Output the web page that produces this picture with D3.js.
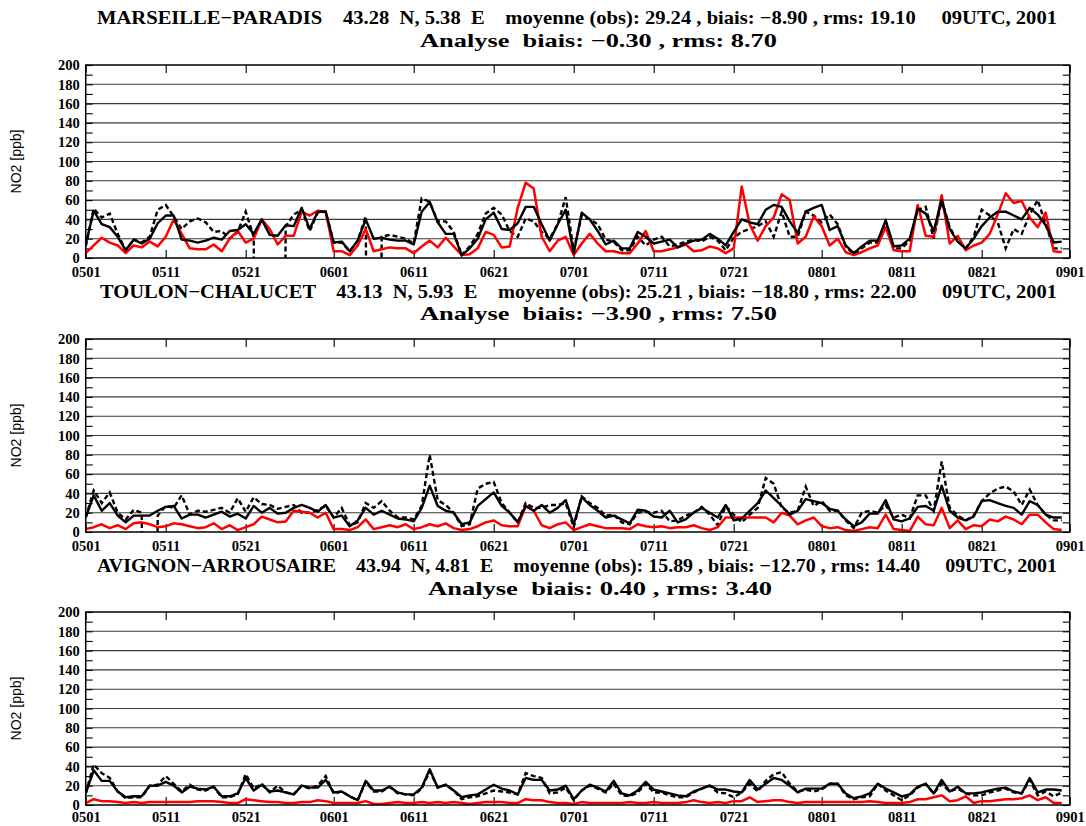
<!DOCTYPE html>
<html><head><meta charset="utf-8">
<script src="https://cdn.jsdelivr.net/npm/d3@7"></script>
<style>
html,body{margin:0;padding:0;background:#fff;}
svg{display:block;}
text{white-space:pre;}
</style></head>
<body>
<svg id="chart" width="1086" height="826"></svg>
<script>
// ---------- data ----------
const tickDays   = [0,10,20,31,41,51,61,71,81,92,102,112,123];
const tickLabels = ["0501","0511","0521","0601","0611","0621","0701","0711","0721","0801","0811","0821","0901"];
const yTicks = [0,20,40,60,80,100,120,140,160,180,200];

const titles1 = [
 "MARSEILLE−PARADIS    43.28  N, 5.38  E    moyenne (obs): 29.24 , biais: −8.90 , rms: 19.10     09UTC, 2001",
 "TOULON−CHALUCET    43.13  N, 5.93  E    moyenne (obs): 25.21 , biais: −18.80 , rms: 22.00     09UTC, 2001",
 "AVIGNON−ARROUSAIRE    43.94  N, 4.81  E    moyenne (obs): 15.89 , biais: −12.70 , rms: 14.40     09UTC, 2001"
];
const titles2 = [
 "Analyse  biais: −0.30 , rms: 8.70",
 "Analyse  biais: −3.90 , rms: 7.50",
 "Analyse  biais: 0.40 , rms: 3.40"
];
const yLabel = "NO2 [ppb]";

// Panel 1 (Marseille)
const obs1 = [12,51,42,46,25,8,19,16,22,50, 55,43,30,38,41,37,27,28,20,27, 48,22,null,null,null,33,45,50,28,47, 48,16,16,7,18,
 43,null,22,24,22,20,15,62,58,38, 38,27,3,12,25,46,52,45,28,22, 41,38,27,20,35,63,8,44,40,35, 19,17,8,8,22,13,19,22,12,14, 17,19,
 17,22,18,8,21,27,30,33,38,22, 48,22,22,48,44,37,45,35,12,4, 10,16,16,38,10,10,18,50,53,20, 60,32,17,10,22,50,44,37,10,30, 25,45,60,35,10,10];
const ana1 = [14,49,35,32,22,8,19,15,20,36, 44,44,19,18,16,18,21,19,28,29, 35,25,40,24,23,34,33,52,30,48, 48,16,17,7,18,
 40,20,21,19,18,18,14,48,58,37, 25,25,3,10,20,40,47,30,29,36, 53,53,35,18,35,50,5,47,40,28, 14,18,10,10,27,22,15,17,19,11, 15,18,
 19,25,20,13,27,40,37,35,50,55, 53,38,26,48,52,55,29,33,13,5, 12,18,18,39,12,13,20,51,46,28, 60,30,17,10,20,33,42,48,48,44, 40,52,45,34,16,17];
const mod1 = [5,13,21,16,13,5,13,11,17,12, 22,40,25,10,9,9,14,7,20,28, 16,20,40,30,14,23,23,48,44,49, 48,7,7,3,13,
 30,7,9,11,10,10,5,12,18,11, 21,12,3,4,10,27,24,11,12,52, 78,72,22,7,18,22,3,15,25,15, 7,7,5,5,15,28,7,7,9,11, 14,7,
 8,12,10,5,10,74,35,18,33,42, 66,60,15,22,43,33,13,20,6,3, 6,10,13,32,8,7,7,55,23,22, 65,15,23,8,13,16,25,45,67,57, 59,42,32,47,7,6];

// Panel 2 (Toulon)
const obs2 = [15,43,30,41,20,13,23,20,null,17, 27,25,38,18,22,21,23,25,20,35, 21,36,29,28,24,26,28,20,20,23, 27,15,25,7,10,30,25,32,22,15, 15,13,
 27,80,33,28,20,6,8,45,50,52, 30,20,10,30,25,25,28,28,30,5, 37,30,25,17,18,10,8,20,21,20, 22,11,12,17,20,26,18,7,27,18,
 10,18,25,56,50,25,20,22,47,27, 32,22,22,12,4,20,22,20,28,15, 18,14,38,38,22,73,25,17,12,17, 32,40,45,47,42,28,44,28,18,12, 12];
const ana2 = [15,38,22,30,17,10,17,17,17,22, 26,27,14,18,18,15,18,21,16,19, 14,27,20,25,19,20,25,28,25,21, 28,15,17,6,12,25,18,22,18,14, 13,11,
 25,48,27,22,20,8,10,27,34,41, 27,20,10,27,22,28,20,25,33,8, 36,28,22,15,17,13,9,23,22,16, 15,22,10,13,20,25,20,15,28,12,
 14,22,30,43,35,27,18,22,34,32, 30,24,22,13,6,10,19,19,33,13, 11,14,26,27,22,48,22,15,12,16, 32,33,30,27,25,18,32,28,18,15, 15];
const mod2 = [3,5,8,4,7,3,9,10,8,5, 6,9,8,6,4,5,9,3,7,2, 5,8,16,13,10,11,22,21,20,15, 20,3,3,2,5,13,3,5,7,5, 8,3,
 5,8,6,9,4,2,3,6,10,12, 7,6,6,27,22,7,4,8,10,2, 5,8,6,4,4,4,3,8,6,5, 6,4,5,5,7,4,2,5,15,15,
 15,15,15,15,10,20,17,8,12,15, 6,4,5,2,1,3,5,4,18,3, 2,1,16,8,7,25,4,12,3,7, 6,13,11,16,13,8,18,18,10,3, 2];

// Panel 3 (Avignon)
const obs3 = [12,42,33,28,14,7,8,8,20,21, 30,22,14,21,16,15,19,8,8,11, 32,17,22,13,20,13,11,20,17,20, 30,12,14,9,5,24,14,14,19,12, 11,10,
 17,35,18,21,15,6,8,9,12,15, 14,13,11,33,30,28,12,13,18,5, 15,20,17,13,22,10,9,13,22,13, 13,10,8,8,13,17,20,13,12,8,
 13,22,14,25,32,34,22,14,16,14, 16,22,22,10,6,8,9,22,15,10, 5,10,18,22,12,22,14,17,12,10, 10,13,15,17,13,12,26,10,14,9, 13];
const ana3 = [12,36,25,25,14,8,9,9,20,20, 24,20,13,19,17,16,19,9,9,12, 28,15,21,14,15,13,11,20,18,18, 26,13,14,9,5,25,15,15,19,13, 11,11,
 18,37,18,21,15,8,10,11,16,21, 17,15,11,28,26,26,15,16,20,6, 15,21,18,14,25,12,10,15,24,16, 14,12,10,9,14,17,20,16,16,14,
 13,26,16,22,28,26,20,13,17,17, 17,22,22,12,7,9,12,22,17,13, 9,11,19,22,12,26,14,19,12,12, 13,15,17,18,14,12,28,13,16,16, 15];
const mod3 = [2,6,4,4,3,2,3,2,3,3, 3,3,3,3,4,4,4,3,2,2, 6,5,4,3,3,2,2,3,3,5, 4,2,2,2,2,4,1,1,2,3, 2,2,
 3,2,3,2,3,2,1,2,3,3, 3,2,2,6,5,5,3,2,2,1, 3,2,2,2,2,2,3,2,2,3, 2,2,2,3,5,3,2,3,2,4,
 4,8,3,4,5,5,3,2,3,3, 3,3,3,3,3,3,4,3,2,2, 2,3,6,6,8,10,4,5,9,2, 4,4,5,6,6,7,10,5,8,2, 2];

const obsSeries = [obs1, obs2, obs3];
const anaSeries = [ana1, ana2, ana3];
const modSeries = [mod1, mod2, mod3];

// ---------- layout ----------
const MISSING = -999;
const plotLeft = 85.7, plotRight = 1069.7;
const panelTops = [65, 339, 612];
const panelH = 193;
const titleY1 = [24, 298, 572];
const titleY2 = [47, 320, 595];
const title1X = [97, 100, 97], title1W = [960, 957, 960];
const title2X = [420, 420, 428], title2W = [357, 357, 344];
const xPad = [9, 9, 6.5];
const serif = "Liberation Serif, Times New Roman, serif";

const svg = d3.select("#chart");
const x = d3.scaleLinear().domain([0,123]).range([plotLeft, plotRight]);

for (let p = 0; p < 3; p++) {
  const top = panelTops[p], bot = top + panelH;
  const y = d3.scaleLinear().domain([0,200]).range([bot, top]);
  const g = svg.append("g");

  // titles
  g.append("text").attr("x", title1X[p]).attr("y", titleY1[p])
    .attr("font-family", serif).attr("font-weight","bold")
    .attr("font-size",19).attr("textLength", title1W[p]).attr("lengthAdjust","spacingAndGlyphs")
    .text(titles1[p]);
  g.append("text").attr("x", title2X[p]).attr("y", titleY2[p])
    .attr("font-family", serif).attr("font-weight","bold")
    .attr("font-size",19).attr("textLength", title2W[p]).attr("lengthAdjust","spacingAndGlyphs")
    .text(titles2[p]);

  // y label
  g.append("text")
    .attr("transform", `translate(21,${(top+bot)/2}) rotate(-90)`)
    .attr("text-anchor","middle")
    .attr("font-family","Liberation Sans, Arial, sans-serif").attr("font-size",14)
    .text(yLabel);

  // grid
  g.append("g").selectAll("line").data(yTicks.filter(v => v>0 && v<200)).join("line")
    .attr("x1", plotLeft).attr("x2", plotRight)
    .attr("y1", d => y(d)).attr("y2", d => y(d))
    .attr("stroke","#3a3a3a").attr("stroke-width",1.1);

  // axes
  const minorY = d3.range(0,201,10);
  const yl = g.append("g").attr("transform",`translate(${plotLeft},0)`)
    .call(d3.axisLeft(y).tickValues(minorY).tickSize(-7).tickPadding(6)
      .tickFormat(d => d % 20 === 0 ? String(d) : ""));
  const yr = g.append("g").attr("transform",`translate(${plotRight},0)`)
    .call(d3.axisRight(y).tickValues(minorY).tickSize(-7).tickFormat(""));
  const xb = g.append("g").attr("transform",`translate(0,${bot})`)
    .call(d3.axisBottom(x).tickValues(tickDays).tickSize(-8).tickPadding(xPad[p])
      .tickFormat((d,i) => tickLabels[i]));
  const xt = g.append("g").attr("transform",`translate(0,${top})`)
    .call(d3.axisTop(x).tickValues(tickDays).tickSize(-8).tickFormat(""));
  [yl,yr,xb,xt].forEach(a => {
    a.select(".domain").remove();
    a.selectAll(".tick line").attr("stroke","#000").attr("stroke-width",1.1);
    a.selectAll("text").attr("font-family", serif)
      .attr("font-weight","bold").attr("font-size",14.5).attr("fill","#000");
  });
  yl.selectAll("text").attr("dy","0.33em");

  // clip
  const cid = "clip"+p;
  svg.append("clipPath").attr("id",cid).append("rect")
    .attr("x",plotLeft).attr("y",top).attr("width",plotRight-plotLeft).attr("height",panelH);

  const line = d3.line().x((d,i) => x(i)).y(d => y(d === null ? MISSING : d));
  const lg = g.append("g").attr("clip-path",`url(#${cid})`);
  lg.append("path").attr("d", line(obsSeries[p])).attr("fill","none")
    .attr("stroke","#000").attr("stroke-width",2.4).attr("stroke-dasharray","5,3");
  lg.append("path").attr("d", line(modSeries[p])).attr("fill","none")
    .attr("stroke","#ff0000").attr("stroke-width",2.5).attr("stroke-linejoin","round");
  lg.append("path").attr("d", line(anaSeries[p])).attr("fill","none")
    .attr("stroke","#000").attr("stroke-width",2.4).attr("stroke-linejoin","round");

  // frame
  g.append("rect").attr("x",plotLeft).attr("y",top).attr("width",plotRight-plotLeft).attr("height",panelH)
    .attr("fill","none").attr("stroke","#000").attr("stroke-width",1.5);
}
</script>
</body></html>
